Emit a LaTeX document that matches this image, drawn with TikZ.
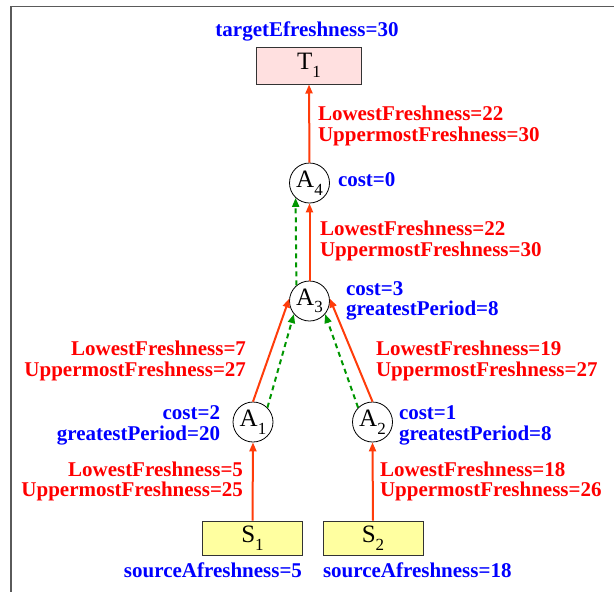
\documentclass[tikz,border=0pt]{standalone}
\usepackage{fontspec}
\setmainfont{Liberation Serif}
\usetikzlibrary{arrows.meta}
\definecolor{arrred}{RGB}{255,60,10}
\definecolor{lblred}{RGB}{255,0,0}
\definecolor{lblblue}{RGB}{0,0,255}
\definecolor{dgreen}{RGB}{0,150,0}
\definecolor{tpink}{RGB}{255,224,224}
\definecolor{syellow}{RGB}{255,255,160}
\definecolor{framegray}{RGB}{90,90,90}
\newcommand{\mysubscr}[1]{\raisebox{-0.3em}{\fontsize{17}{17}\selectfont #1}}
\begin{document}
\begin{tikzpicture}[x=1pt,y=-1pt,
  lbl/.style={inner sep=0pt, outer sep=0pt, font=\fontsize{21}{21}\selectfont\bfseries},
  redl/.style={lbl, text=lblred},
  bluel/.style={lbl, text=lblblue},
  agg/.style={circle, draw=black, line width=0.8pt, fill=white, minimum size=40pt, inner sep=0pt, font=\fontsize{25}{25}\selectfont},
  tbox/.style={rectangle, draw=black!80, line width=1pt, fill=tpink, minimum width=105pt, minimum height=37pt, inner sep=0pt, font=\fontsize{25}{25}\selectfont},
  sbox/.style={rectangle, draw=black!80, line width=1pt, fill=syellow, minimum width=100pt, minimum height=34pt, inner sep=0pt, font=\fontsize{25}{25}\selectfont},
  flow/.style={draw=arrred, line width=2pt, -{Triangle[length=9pt,width=7pt]}},
  feed/.style={draw=dgreen, line width=2pt, dash pattern=on 5pt off 4pt, -{Triangle[length=9pt,width=7pt]}},
]
\useasboundingbox (0,0) rectangle (614,592);
\draw[framegray, line width=1.5pt] (11,600) -- (11,6.5) -- (620,6.5);

% nodes
\node[tbox] (T1) at (309,65.5) {T\mysubscr{1}};
\node[agg] (A4) at (309.5,183) {A\mysubscr{4}};
\node[agg] (A3) at (309.5,301) {A\mysubscr{3}};
\node[agg] (A1) at (253,422) {A\mysubscr{1}};
\node[agg] (A2) at (372.5,422) {A\mysubscr{2}};
\node[sbox] (S1) at (252.5,538) {S\mysubscr{1}};
\node[sbox] (S2) at (373,538) {S\mysubscr{2}};

% connectors
\draw[flow] (S1.north) -- (A1.south);
\draw[flow] (S2.north) -- (A2.south);
\draw[flow] (A1.north) -- (A3.173);
\draw[flow] (A2.north) -- (A3.7);
\draw[flow] (A3.north) -- (A4.south);
\draw[flow] (A4.north) -- (T1.south);
\draw[feed] (A1.45) -- (A3.220);
\draw[feed] (A2.135) -- (A3.320);
\draw[feed] (A3.130) -- (A4.227);

% labels
\node[bluel, anchor=base] (tE) at (307,36) {targetEfreshness=30};
\node[redl, anchor=north west, align=left] (f4) at (318,105.3)
  {\strut LowestFreshness=22\\\strut UppermostFreshness=30};
\node[bluel, anchor=base west] (c4) at (338,186) {cost=0};
\node[redl, anchor=north west, align=left] (f3) at (320,220.3)
  {\strut LowestFreshness=22\\\strut UppermostFreshness=30};
\node[bluel, anchor=north west, align=left] (c3) at (346,280.3)
  {\strut cost=3\\[-1pt]\strut greatestPeriod=8};
\node[redl, anchor=north east, align=right] (f1) at (246,340.3)
  {\strut LowestFreshness=7\\\strut UppermostFreshness=27};
\node[redl, anchor=north west, align=left] (f2) at (376,340.3)
  {\strut LowestFreshness=19\\\strut UppermostFreshness=27};
\node[bluel, anchor=north east, align=right] (c1) at (220,404.3)
  {\strut cost=2\\\strut greatestPeriod=20};
\node[bluel, anchor=north west, align=left] (c2) at (399,404.3)
  {\strut cost=1\\\strut greatestPeriod=8};
\node[redl, anchor=north east, align=right] (s1f) at (243,462)
  {\strut LowestFreshness=5\\[-1pt]\strut UppermostFreshness=25};
\node[redl, anchor=north west, align=left] (s2f) at (380,462)
  {\strut LowestFreshness=18\\[-1pt]\strut UppermostFreshness=26};
\node[bluel, anchor=base east] (sa1) at (302,577) {sourceAfreshness=5};
\node[bluel, anchor=base west] (sa2) at (323,577) {sourceAfreshness=18};
\end{tikzpicture}
\end{document}
